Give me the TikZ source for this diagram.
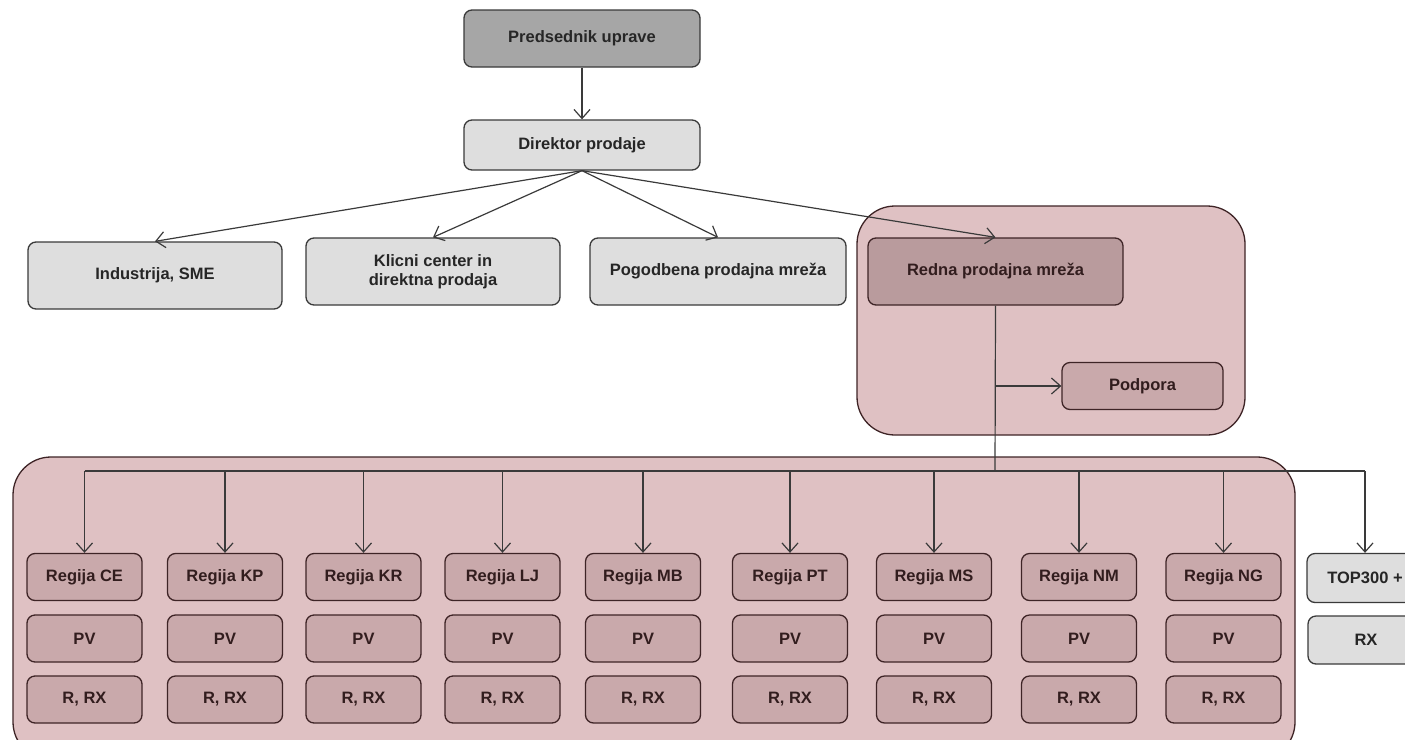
\documentclass[tikz,border=0pt]{standalone}
\usepackage{fontspec}
\setmainfont{Liberation Sans}
\usetikzlibrary{arrows.meta}
\definecolor{dkgray}{HTML}{A6A6A6}
\definecolor{ltgray}{HTML}{DEDEDE}
\definecolor{pinkbg}{HTML}{DFC1C3}
\definecolor{rednafill}{HTML}{B99B9D}
\definecolor{subfill}{HTML}{C9A9AB}
\definecolor{brownline}{HTML}{3E2426}
\definecolor{grayline}{HTML}{3A3A3A}
\tikzset{
  box/.style={draw=grayline, line width=1.3pt, rounded corners=8pt, inner sep=0pt,
    align=center, font=\fontsize{16.5}{18.5}\selectfont\bfseries, text=black!85},
  graybox/.style={box, fill=ltgray},
  pinkbox/.style={box, draw=brownline, fill=subfill, text=brownline!80!black},
  container/.style={draw=brownline, line width=1.3pt, fill=pinkbg, rounded corners=38pt},
  conn/.style={draw=grayline, line width=1.2pt},
  arr/.style={conn, -{Straight Barb[length=9pt,width=16pt,line width=1.2pt]}},
  regbox/.style={pinkbox, minimum width=115pt, minimum height=47pt},
}
\begin{document}
\begin{tikzpicture}[x=1pt,y=-1pt]
\useasboundingbox (0,0) rectangle (1405,739);
% containers
\draw[container] (857,206) rectangle (1245,435);
\draw[container] (13,457) rectangle (1295,760);

% top nodes
\node[box, fill=dkgray, minimum width=236pt, minimum height=57pt] (pred) at (582,38.5) {Predsednik uprave};
\node[graybox, minimum width=236pt, minimum height=50pt] (dir) at (582,145) {Direktor prodaje};

\node[graybox, minimum width=254pt, minimum height=67pt] (ind) at (155,275.5) {Industrija, SME};
\node[graybox, minimum width=254pt, minimum height=67pt] (kli) at (433,271.5) {Klicni center in\\direktna prodaja};
\node[graybox, minimum width=256pt, minimum height=67pt] (pog) at (718,271.5) {Pogodbena prodajna mreža};
\node[pinkbox, fill=rednafill, minimum width=255pt, minimum height=67pt] (red) at (995.5,271.5) {Redna prodajna mreža};
\node[pinkbox, minimum width=161pt, minimum height=47pt] (pod) at (1142.5,386) {Podpora};

% connectors top
\draw[arr] (pred.south) -- (dir.north);
\draw[arr] (dir.south) -- (ind.north);
\draw[arr] (dir.south) -- (kli.north);
\draw[arr] (dir.south) -- (pog.north);
\draw[arr] (dir.south) -- (red.north);

\coordinate (bus) at (995,471);
\coordinate (podj) at (995,386);
\draw[conn] (red.south) -- (bus);
\draw[arr] (podj) -- (pod.west);

% regions
\foreach \n/\x/\lab in {ce/84.5/CE, kp/225/KP, kr/363.5/KR, lj/502.5/LJ, mb/643/MB, pt/790/PT, ms/934/MS, nm/1079/NM, ng/1223.5/NG}{
  \node[regbox] (r\n) at (\x,577) {Regija \lab};
  \node[regbox] (p\n) at (\x,638.5) {PV};
  \node[regbox] (x\n) at (\x,699.5) {R,\ RX};
  \coordinate (b\n) at (\x,471);
}
\node[graybox, minimum width=116pt, minimum height=49pt] (top) at (1365,578) {TOP300 +};
\node[graybox, minimum width=116pt, minimum height=48pt] (rx) at (1366,640) {RX};
\coordinate (btop) at (1365,471);

\draw[conn] (bce) -- (btop);
\foreach \n in {ce,kp,kr,lj,mb,pt,ms,nm,ng}{
  \draw[arr] (b\n) -- (r\n.north);
}
\draw[arr] (btop) -- (top.north);
\end{tikzpicture}
\end{document}
